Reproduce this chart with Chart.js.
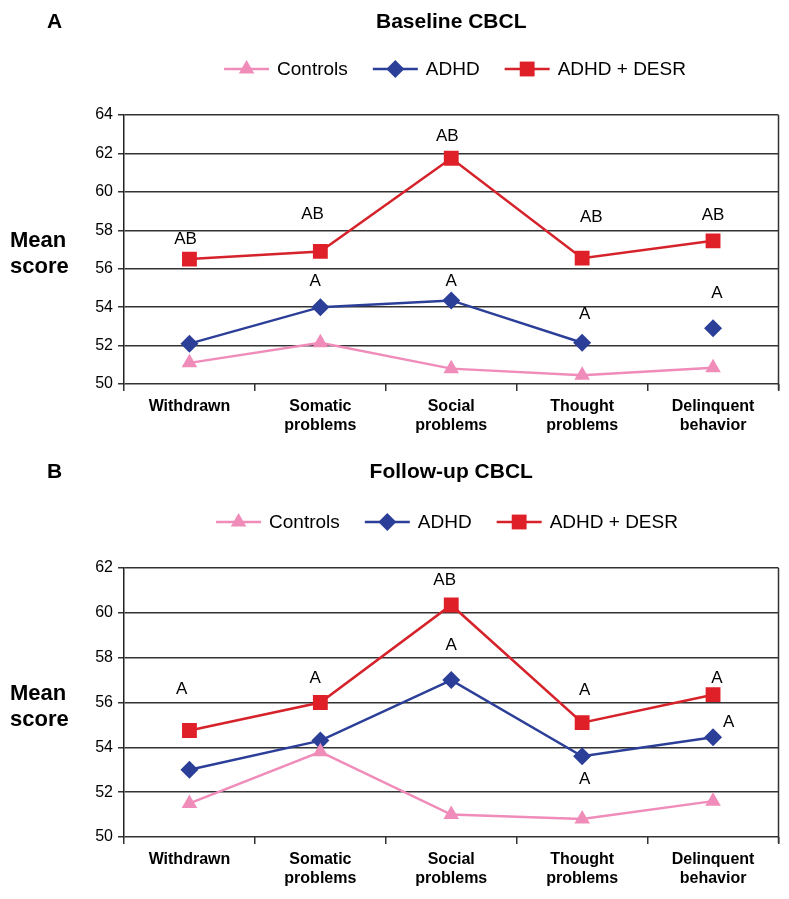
<!DOCTYPE html>
<html>
<head>
<meta charset="utf-8">
<script src="https://cdn.jsdelivr.net/npm/chart.js@4.4.1/dist/chart.umd.min.js"></script>
<style>
  body { margin: 0; background: #fff; }
  .panel { position: absolute; left: 0; width: 789px; }
</style>
</head>
<body>
<div class="panel" style="top:0;height:445px"><canvas id="chartA"></canvas></div>
<div class="panel" style="top:445px;height:454px"><canvas id="chartB"></canvas></div>
<script>
// カテゴリと系列
const categories = [['Withdrawn'], ['Somatic', 'problems'], ['Social', 'problems'], ['Thought', 'problems'], ['Delinquent', 'behavior']];
const seriesNames = ['Controls', 'ADHD', 'ADHD + DESR'];

// A: Baseline CBCL
const baselineControls = [51.1, 52.15, 50.8, 50.45, 50.85];
const baselineAdhd = [52.1, 54.0, 54.35, 52.15, 52.9];
const baselineDesr = [56.5, 56.9, 61.75, 56.55, 57.45];
const baselineTicks = [50, 52, 54, 56, 58, 60, 62, 64];
// ADHD の線は Thought → Delinquent の間が切れている
const baselineAdhdBreaks = [4];
// 有意差の文字 [カテゴリ位置, 値, 文字]
const baselineMarks = [
    [-0.03, 57.55, 'AB'], [0.94, 58.85, 'AB'], [1.97, 62.9, 'AB'], [3.07, 58.7, 'AB'], [4.0, 58.77, 'AB'],
    [0.96, 55.37, 'A'], [2.0, 55.37, 'A'], [3.02, 53.64, 'A'], [4.03, 54.73, 'A']
];

// B: Follow-up CBCL
const followControls = [51.5, 53.8, 51.0, 50.8, 51.6];
const followAdhd = [53.0, 54.3, 57.0, 53.6, 54.45];
const followDesr = [54.75, 56.0, 60.35, 55.1, 56.35];
const followTicks = [50, 52, 54, 56, 58, 60, 62];
const followMarks = [
    [-0.06, 56.58, 'A'], [0.96, 57.07, 'A'], [1.95, 61.45, 'AB'], [2.0, 58.57, 'A'],
    [3.02, 56.56, 'A'], [3.02, 52.58, 'A'], [4.03, 57.1, 'A'], [4.12, 55.1, 'A']
];

const colors = ['#f08cb9', '#2c3f98', '#df2029'];
const lineColors = ['#f08cb9', '#2c3f98', '#d6232b'];
const pointStyles = [
    { pointStyle: 'triangle', radius: 9 },
    { pointStyle: 'rectRot', radius: 9 },
    { pointStyle: 'rect', radius: 10.5 }
];
const FONT = '"Liberation Sans", Arial, sans-serif';

// タイトル・凡例・文字などを描くプラグイン
const decorPlugin = {
    id: 'decor',
    afterDraw(chart, args, opts) {
        const { ctx, chartArea: a, scales: { x, y } } = chart;
        ctx.save();

        // 右の枠線
        ctx.strokeStyle = '#333';
        ctx.lineWidth = 1.5;
        ctx.beginPath();
        ctx.moveTo(a.right, a.top);
        ctx.lineTo(a.right, a.bottom + 6);
        ctx.stroke();

        ctx.fillStyle = '#000';
        ctx.textBaseline = 'middle';

        // パネル文字
        ctx.textAlign = 'left';
        ctx.font = 'bold 21px ' + FONT;
        ctx.fillText(opts.letter, 47, opts.titleY);

        // タイトル
        ctx.textAlign = 'center';
        ctx.font = 'bold 21px ' + FONT;
        ctx.fillText(opts.title, (a.left + a.right) / 2, opts.titleY);

        // Mean score
        ctx.textAlign = 'left';
        ctx.font = 'bold 22px ' + FONT;
        const cy = (a.top + a.bottom) / 2 + 4;
        ctx.fillText('Mean', 10, cy - 13);
        ctx.fillText('score', 10, cy + 13);

        // 凡例
        ctx.font = '19px ' + FONT;
        const lineLen = 45, gap = 8, spacing = 25;
        const widths = seriesNames.map(n => ctx.measureText(n).width);
        const total = widths.reduce((s, w) => s + lineLen + gap + w, 0) + spacing * (seriesNames.length - 1);
        let lx = opts.legendX - total / 2;
        seriesNames.forEach((name, i) => {
            ctx.strokeStyle = lineColors[i];
            ctx.lineWidth = 2.5;
            ctx.beginPath();
            ctx.moveTo(lx, opts.legendY);
            ctx.lineTo(lx + lineLen, opts.legendY);
            ctx.stroke();
            ctx.fillStyle = colors[i];
            Chart.helpers.drawPoint(ctx, { pointStyle: pointStyles[i].pointStyle, radius: pointStyles[i].radius, borderWidth: 0, rotation: 0 }, lx + lineLen / 2, opts.legendY);
            ctx.fillStyle = '#000';
            ctx.textAlign = 'left';
            ctx.fillText(name, lx + lineLen + gap, opts.legendY + 1);
            lx += lineLen + gap + widths[i] + spacing;
        });

        // 有意差の文字
        ctx.font = '17px ' + FONT;
        ctx.textAlign = 'center';
        opts.marks.forEach(([i, v, t]) => {
            ctx.fillText(t, x.getPixelForValue(i), y.getPixelForValue(v));
        });
        ctx.restore();
    }
};

function makeChart(canvasId, values, yTicks, breaks, decor, areaTop, xHeight) {
    const datasets = values.map((data, i) => ({
        label: seriesNames[i],
        data: data,
        borderColor: lineColors[i],
        backgroundColor: colors[i],
        pointBackgroundColor: colors[i],
        pointBorderWidth: 0,
        pointStyle: pointStyles[i].pointStyle,
        pointRadius: pointStyles[i].radius,
        borderWidth: 2.5,
        tension: 0,
        segment: i === 1 ? {
            borderColor: ctx => breaks.includes(ctx.p1DataIndex) ? 'rgba(0,0,0,0)' : undefined
        } : undefined
    }));

    return new Chart(document.getElementById(canvasId), {
        type: 'line',
        data: { labels: categories, datasets: datasets },
        options: {
            responsive: true,
            maintainAspectRatio: false,
            animation: false,
            layout: { padding: { left: 0, right: 10, top: areaTop, bottom: 0 } },
            plugins: {
                legend: { display: false },
                tooltip: { enabled: false },
                decor: decor
            },
            scales: {
                x: {
                    offset: true,
                    grid: { offset: true, drawOnChartArea: false, drawTicks: true, tickLength: 7, color: '#333', lineWidth: 1.5 },
                    border: { display: false },
                    ticks: { color: '#000', font: { family: FONT, size: 16, weight: 'bold' }, padding: 6, maxRotation: 0 },
                    afterFit: s => { s.height = xHeight; }
                },
                y: {
                    min: yTicks[0],
                    max: yTicks[yTicks.length - 1],
                    afterBuildTicks: s => { s.ticks = yTicks.map(v => ({ value: v })); },
                    grid: { color: '#333', lineWidth: 1.5, tickLength: 6 },
                    border: { color: '#222', width: 1.5 },
                    ticks: { color: '#000', font: { family: FONT, size: 16 }, padding: 5 },
                    afterFit: s => { s.width = 124; }
                }
            }
        },
        plugins: [decorPlugin]
    });
}

makeChart('chartA', [baselineControls, baselineAdhd, baselineDesr], baselineTicks, baselineAdhdBreaks,
    { letter: 'A', title: 'Baseline CBCL', titleY: 22, legendX: 455, legendY: 69, marks: baselineMarks }, 115, 61);
makeChart('chartB', [followControls, followAdhd, followDesr], followTicks, [],
    { letter: 'B', title: 'Follow-up CBCL', titleY: 27, legendX: 447, legendY: 77, marks: followMarks }, 123, 62);
</script>
</body>
</html>
